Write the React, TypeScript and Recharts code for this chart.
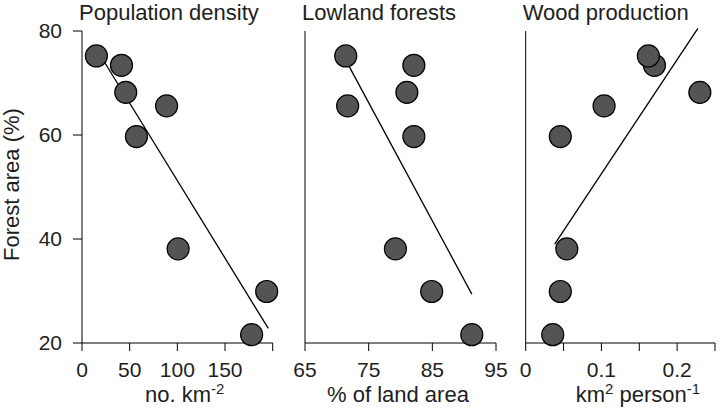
import type { ReactNode } from "react";
import { ReferenceLine, Scatter, ScatterChart, XAxis, YAxis } from "recharts";

// forest area (%) per region, same order in every panel
const forestArea = [73.4, 75.2, 68.2, 65.6, 59.7, 38.1, 29.9, 21.6];

const popDensity = [41.4, 15.1, 45.9, 88.7, 57.1, 100.8, 193.7, 177.9];
const lowlandForest = [82.1, 71.4, 81.0, 71.7, 82.1, 79.2, 84.9, 91.2];
const woodProduction = [0.17, 0.162, 0.23, 0.1035, 0.0457, 0.0543, 0.0457, 0.0357];

// fitted lines (end points)
const popFitX = [16.2, 195.4];
const popFitY = [76.2, 22.8];
const lowlandFitX = [71.4, 91.2];
const lowlandFitY = [74.4, 29.4];
const woodFitX = [0.0383, 0.2274];
const woodFitY = [39.0, 80.5];

const yTicks = [20, 40, 60, 80];
const popTicks = [0, 50, 100, 150, 200];
const popLabels = [0, 50, 100, 150];
const lowlandTicks = [65, 75, 85, 95];
const woodTicks = [0, 0.05, 0.1, 0.15, 0.2, 0.25];
const woodLabels = [0, 0.1, 0.2];

const FONT = "'Liberation Sans', Arial, sans-serif";
const INK = "#1e1e1e";
const HEIGHT = 410;
const PLOT_TOP = 31;
const X_AXIS_H = 60;
const BOTTOM_GAP = 7;

const Dot = (props: any) => (
  <circle cx={props.cx} cy={props.cy} r={11} fill="#545454" stroke="#000" strokeWidth={1.2} />
);

type PanelProps = {
  left: number;
  width: number;
  yAxisWidth: number;
  marginRight: number;
  xs: number[];
  domain: [number, number];
  ticks: number[];
  labels: number[];
  fitX: number[];
  fitY: number[];
  title: string;
  xLabel: (vb: any) => ReactNode;
  yLabel?: boolean;
};

function Panel(p: PanelProps) {
  const data = p.xs.map((x, i) => ({ x, y: forestArea[i] }));
  return (
    <div style={{ position: "absolute", left: p.left, top: 0 }}>
      <ScatterChart
        width={p.width}
        height={HEIGHT}
        margin={{ top: PLOT_TOP, right: p.marginRight, left: 0, bottom: BOTTOM_GAP }}
      >
        <XAxis
          type="number"
          dataKey="x"
          domain={p.domain}
          ticks={p.ticks}
          interval={0}
          height={X_AXIS_H}
          tickSize={8}
          tickMargin={11}
          stroke="#000"
          tick={{ fill: INK, fontSize: 21, fontFamily: FONT }}
          tickFormatter={(v: number) => (p.labels.includes(v) ? String(v) : "")}
          label={(props: any) => p.xLabel(props.viewBox)}
        />
        <YAxis
          type="number"
          dataKey="y"
          domain={[20, 80]}
          ticks={yTicks}
          interval={0}
          width={p.yAxisWidth}
          tickSize={9}
          tickMargin={11}
          stroke="#000"
          tick={p.yLabel ? { fill: INK, fontSize: 21, fontFamily: FONT } : false}
          label={
            p.yLabel
              ? (props: any) => {
                  const vb = props.viewBox;
                  const cx = vb.x + 19;
                  const cy = vb.y + vb.height / 2 - 2.5;
                  return (
                    <text
                      x={cx}
                      y={cy}
                      transform={`rotate(-90, ${cx}, ${cy})`}
                      textAnchor="middle"
                      fill={INK}
                      fontSize={22}
                      fontFamily={FONT}
                    >
                      Forest area (%)
                    </text>
                  );
                }
              : undefined
          }
        />
        <Scatter data={data} shape={Dot} isAnimationActive={false} />
        <ReferenceLine
          segment={[
            { x: p.fitX[0], y: p.fitY[0] },
            { x: p.fitX[1], y: p.fitY[1] },
          ]}
          stroke="#000"
          strokeWidth={1.3}
          ifOverflow="visible"
        />
      </ScatterChart>
      <div
        style={{
          position: "absolute",
          left: p.yAxisWidth - 3,
          top: 0.9,
          fontFamily: FONT,
          fontSize: 22,
          lineHeight: "24px",
          color: INK,
          whiteSpace: "nowrap",
        }}
      >
        {p.title}
      </div>
    </div>
  );
}

const labelText = (x: number, y: number, parts: ReactNode) => (
  <text x={x} y={y} fill={INK} fontSize={22} fontFamily={FONT}>
    {parts}
  </text>
);

export default function App() {
  return (
    <div style={{ position: "absolute", left: 0, top: 0, width: 720, height: HEIGHT, background: "#fff" }}>
      <Panel
        left={0}
        width={300}
        yAxisWidth={82}
        marginRight={300 - 272.7}
        xs={popDensity}
        domain={[0, 200]}
        ticks={popTicks}
        labels={popLabels}
        fitX={popFitX}
        fitY={popFitY}
        title="Population density"
        yLabel
        xLabel={(vb) =>
          labelText(
            vb.x + 63,
            402,
            <>
              <tspan>no. km</tspan>
              <tspan dy={-8} fontSize={15}>-2</tspan>
            </>
          )
        }
      />
      <Panel
        left={240}
        width={275}
        yAxisWidth={65}
        marginRight={275 - 496 + 240}
        xs={lowlandForest}
        domain={[65, 95]}
        ticks={lowlandTicks}
        labels={lowlandTicks}
        fitX={lowlandFitX}
        fitY={lowlandFitY}
        title="Lowland forests"
        xLabel={(vb) => labelText(vb.x + 22, 402, <tspan>% of land area</tspan>)}
      />
      <Panel
        left={465}
        width={255}
        yAxisWidth={60.7}
        marginRight={255 - 715 + 465}
        xs={woodProduction}
        domain={[0, 0.25]}
        ticks={woodTicks}
        labels={woodLabels}
        fitX={woodFitX}
        fitY={woodFitY}
        title="Wood production"
        xLabel={(vb) =>
          labelText(
            vb.x + 50,
            402,
            <>
              <tspan>km</tspan>
              <tspan dy={-8} fontSize={15}>2</tspan>
              <tspan dy={8}> person</tspan>
              <tspan dy={-8} fontSize={15}>-1</tspan>
            </>
          )
        }
      />
    </div>
  );
}
